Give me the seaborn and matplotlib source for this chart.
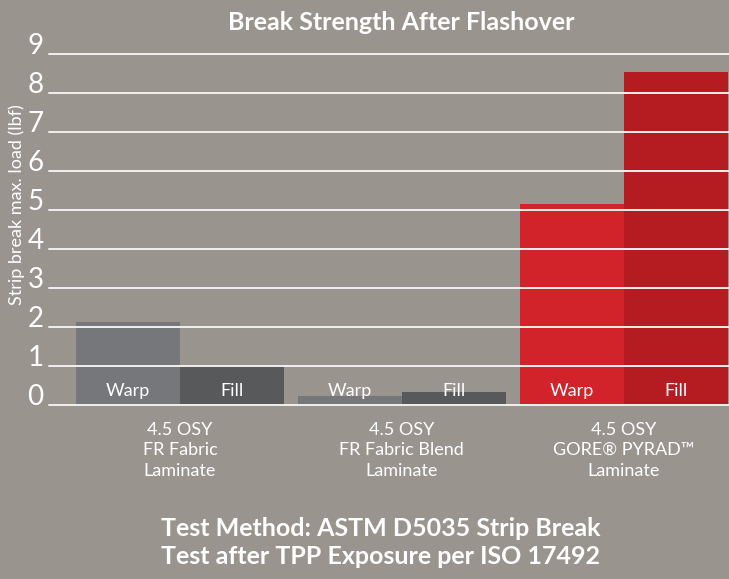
import matplotlib
matplotlib.use("Agg")
import matplotlib.pyplot as plt
import seaborn as sns
import pandas as pd

categories = ["4.5 OSY\nFR Fabric\nLaminate",
              "4.5 OSY\nFR Fabric Blend\nLaminate",
              "4.5 OSY\nGORE\u00ae PYRAD\u2122\nLaminate"]
directions = ["Warp", "Fill"]
warp_values = [2.12, 0.24, 5.15]
fill_values = [1.02, 0.33, 8.53]
y_ticks = [0, 1, 2, 3, 4, 5, 6, 7, 8, 9]

warp_colors = ["#76777a", "#76777a", "#d2232a"]
fill_colors = ["#58595b", "#58595b", "#b51c22"]

df = pd.DataFrame({
    "category": categories * 2,
    "direction": ["Warp"] * 3 + ["Fill"] * 3,
    "value": warp_values + fill_values,
})

BG = "#99948e"
sns.set_theme(style="white")
plt.rcParams["font.family"] = ["Lato", "DejaVu Sans"]

fig = plt.figure(figsize=(7.29, 5.79), dpi=100, facecolor=BG)
ax = fig.add_axes([49 / 729, 1 - 405 / 579, 1 - 49 / 729, (405 - 53.5) / 579])
ax.set_facecolor(BG)

sns.barplot(data=df, x="category", y="value", hue="direction",
            hue_order=directions, order=categories, width=0.937,
            ax=ax, legend=False, errorbar=None, saturation=1)

colors = warp_colors + fill_colors
for patch, c in zip(ax.patches, colors):
    patch.set_facecolor(c)
    patch.set_edgecolor("none")
    patch.set_zorder(1)

for i, patch in enumerate(ax.patches[:6]):
    cx = patch.get_x() + patch.get_width() / 2
    ax.text(cx, 0.36, directions[0] if i < 3 else directions[1],
            ha="center", va="center", color="white", fontsize=13, zorder=3)

ax.set_xlim(-0.59, 2.475)
ax.set_ylim(0, 9)
ax.set_yticks(y_ticks)
ax.set_yticklabels([str(t) for t in y_ticks], fontsize=20, color="white",
                   fontweight="normal", va="baseline")
ax.tick_params(axis="y", length=0, pad=4)
ax.tick_params(axis="x", length=0, pad=12)
ax.set_xticks(range(len(categories)))
ax.set_xticklabels(categories, fontsize=13, color="white", linespacing=1.35)

for t in y_ticks:
    ax.axhline(t, color="#f2f0ee", lw=1.4, zorder=2, clip_on=False)

for s in ax.spines.values():
    s.set_visible(False)
ax.grid(False)
ax.set_xlabel("")
ax.set_ylabel("Strip break max. load (lbf)", fontsize=13, color="white",
              fontweight="normal", labelpad=0)
ax.yaxis.set_label_coords(-(49 - 25) / 680, 0.569)

fig.text(0.551, 1 - 22 / 579, "Break Strength After Flashover", ha="center",
         va="center", fontsize=18, fontweight="bold", color="white")
fig.text(0.522, 1 - 529 / 579, "Test Method: ASTM D5035 Strip Break", ha="center",
         va="center", fontsize=18, fontweight="bold", color="white")
fig.text(0.522, 1 - 557 / 579, "Test after TPP Exposure per ISO 17492", ha="center",
         va="center", fontsize=18, fontweight="bold", color="white")

fig.savefig("out.png", dpi=100, facecolor=BG)
